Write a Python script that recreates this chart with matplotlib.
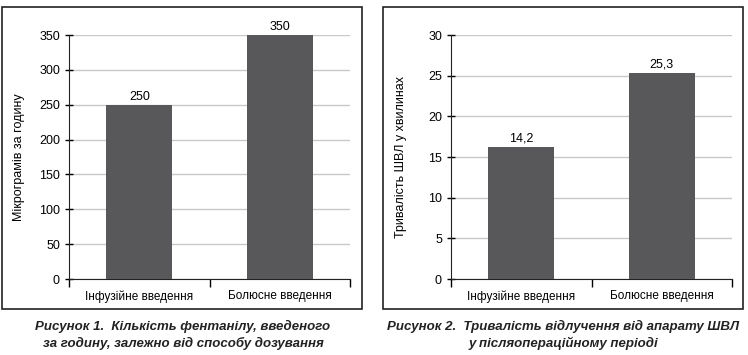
import matplotlib.pyplot as plt
from matplotlib.patches import Rectangle

plt.rcParams['font.family'] = ['Liberation Sans', 'DejaVu Sans']

categories = ['Інфузійне введення', 'Болюсне введення']

fent_values = [250, 350]
fent_labels = ['250', '350']

vent_values = [16.2, 25.3]
vent_labels = ['14,2', '25,3']

W, H = 748, 355
fig = plt.figure(figsize=(W / 100, H / 100), dpi=100)

bar_color = '#58585a'
grid_color = '#c8c8c8'


def px(x0, y0, x1, y1):
    # pixel box (top-left origin) -> figure fraction rect
    return [x0 / W, 1 - y1 / H, (x1 - x0) / W, (y1 - y0) / H]


def draw_panel(rect, values, labels, ymax, step, ylabel, label_off):
    ax = fig.add_axes(rect)
    x = range(len(values))
    ax.bar(x, values, width=0.47, color=bar_color, zorder=3)
    for xi, v, t in zip(x, values, labels):
        ax.text(xi, v + label_off, t, ha='center', va='bottom', fontsize=9)
    ax.set_xlim(-0.5, len(values) - 0.5)
    ax.set_ylim(0, ymax)
    ax.set_yticks(range(0, ymax + 1, step))
    ax.set_xticks(list(x))
    ax.set_xticklabels(categories, fontsize=8.5)
    ax.set_xticks([-0.5, 0.5, 1.5], minor=True)
    ax.tick_params(axis='x', which='major', length=0, pad=8)
    ax.tick_params(axis='x', which='minor', length=6, width=1, direction='out')
    ax.tick_params(axis='y', length=6, width=1, direction='inout', labelsize=9)
    ax.yaxis.grid(True, color=grid_color, linewidth=1, zorder=0)
    for s in ['top', 'right']:
        ax.spines[s].set_visible(False)
    for s in ['left', 'bottom']:
        ax.spines[s].set_color('#222222')
    ax.set_ylabel(ylabel, fontsize=9)
    ax.yaxis.set_label_coords(-0.158, 0.5)
    return ax


ax1 = draw_panel(px(69, 35, 350, 279), fent_values, fent_labels, 350, 50,
                 'Мікрограмів за годину', 3)

ax2 = draw_panel(px(451, 35, 732, 279), vent_values, vent_labels, 30, 5,
                 'Тривалість ШВЛ у хвилинах', 0.3)

for box in [(2, 7, 362, 309), (383, 7, 743, 309)]:
    r = px(*box)
    fig.patches.append(Rectangle((r[0], r[1]), r[2], r[3], transform=fig.transFigure,
                                 fill=False, edgecolor='#222222', linewidth=1.2))

cap = dict(fontsize=9.5, fontweight='bold', fontstyle='italic', color='#222222')
fig.text(183 / W, 1 - 326 / H, 'Рисунок 1.  Кількість фентанілу, введеного',
         ha='center', va='center', **cap)
fig.text(183 / W, 1 - 343 / H, 'за годину, залежно від способу дозування',
         ha='center', va='center', **cap)
fig.text(563 / W, 1 - 326 / H, 'Рисунок 2.  Тривалість відлучення від апарату ШВЛ',
         ha='center', va='center', **cap)
fig.text(563 / W, 1 - 343 / H, 'у післяопераційному періоді',
         ha='center', va='center', **cap)

fig.savefig('out.png', dpi=100)
